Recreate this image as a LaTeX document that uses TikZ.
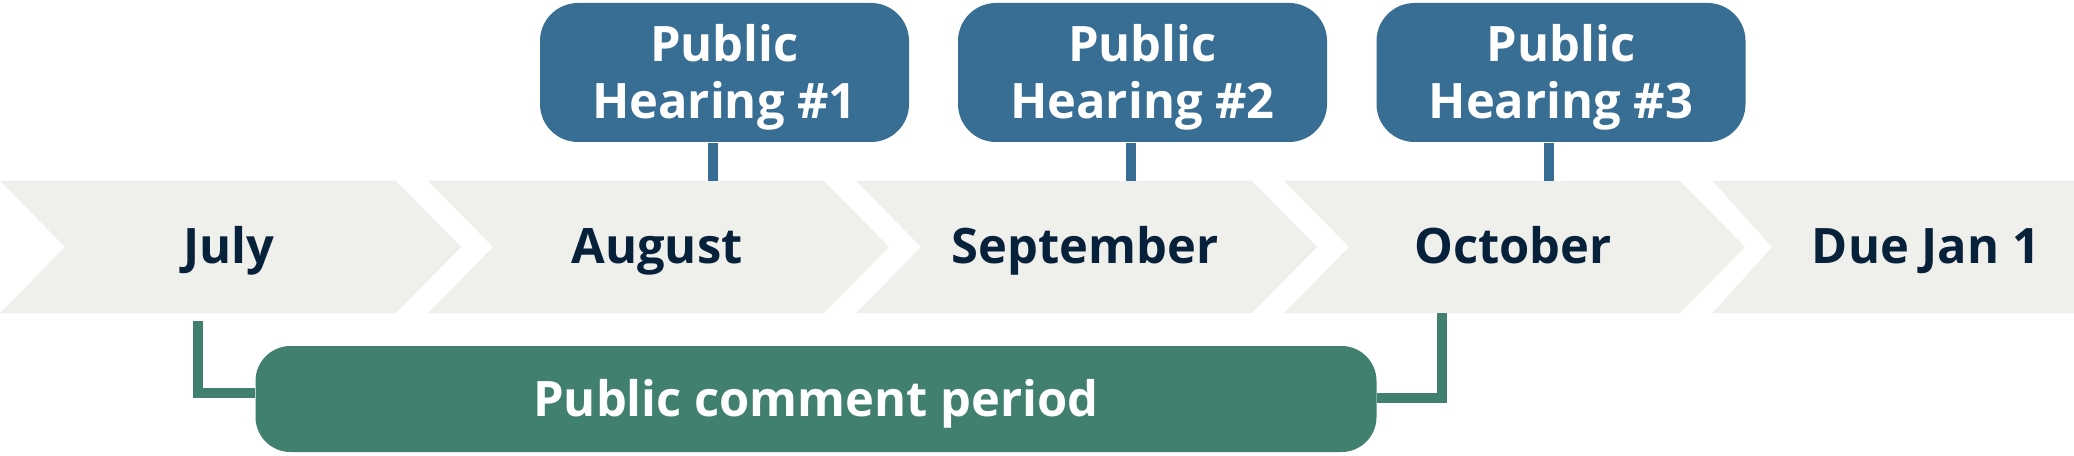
\documentclass[tikz,border=0pt]{standalone}
\usepackage{fontspec}
\setmainfont{Open Sans}
\usetikzlibrary{
	positioning,
	calc,
}
\definecolor{chevgray}{HTML}{EFEFEB}
\definecolor{hearblue}{HTML}{386D94}
\definecolor{periodgreen}{HTML}{41806F}
\definecolor{monthnavy}{HTML}{08213A}
\tikzset{chevron/.style={
		% no border, only the filling:
		draw=none,fill=chevgray,
}}
\tikzset{month/.style={
		% the text:
		text=monthnavy,inner sep=0pt,anchor=base,
		font=\fontsize{13.9}{16.5}\selectfont\bfseries,
}}
\tikzset{hearing/.style={
		% The shape:
		rectangle,rounded corners=3.8mm,
		% The size:
		minimum width=36.9mm,minimum height=13.9mm,inner sep=0pt,
		% The filling:
		fill=hearblue,text=white,align=center,
		font=\fontsize{13.9}{16.2}\selectfont\bfseries,
		% make sure the lines sit where they should
		text depth=0.3mm,
}}
\tikzset{period/.style={
		% The shape:
		rectangle,rounded corners=3.5mm,
		% The size:
		minimum width=112.1mm,minimum height=10.6mm,inner sep=0pt,
		% The filling:
		fill=periodgreen,text=white,
		font=\fontsize{13.9}{16.5}\selectfont\bfseries,
		% make sure text aligns properly
		text height=3.4mm,text depth=0pt,
}}
\tikzset{stem/.style={draw=hearblue,line width=1mm}}
\tikzset{link/.style={draw=periodgreen,line width=1mm}}

\begin{document}
\begin{tikzpicture}[x=0.1mm,y=-0.1mm]
	\useasboundingbox (0,0) rectangle (2074,456);
	% the chevrons with the months
	\foreach \i/\mname in {0/July,1/August,2/September,3/October} {
		\fill [chevron] (428*\i,181) -- ++(396,0) -- ++(65,66) -- ++(-65,66)
			-- ++(-396,0) -- ++(65,-66) -- cycle;
		\node [month] (m\i) at (428*\i+229,263.5) {\mname};
	}
	\fill [chevron] (1712.5,181) -- (2074,181) -- (2074,313) -- (1712.5,313) -- (1772,247) -- cycle;
	\node [month] (due) at (1926,263.5) {Due Jan 1};
	% the hearings
	\node [hearing] (h1) at (724.5,72.5) {Public\\Hearing \#1};
	\node [hearing] (h2) at (1142.5,72.5) {Public\\Hearing \#2};
	\node [hearing] (h3) at (1561,72.5) {Public\\Hearing \#3};
	\coordinate (s1) at (712.5,181);
	\coordinate (s2) at (1130.5,181);
	\coordinate (s3) at (1549,181);
	\foreach \n in {1,2,3} {
		\draw [stem] (h\n.south -| s\n) -- (s\n);
	}
	% the comment period
	\node [period] (period) at (816,399) {Public comment period};
	\coordinate (pl) at (198,321);
	\coordinate (pr) at (1442,313);
	\draw [link] (pl) |- ([yshift=0.6mm]period.west);
	\draw [link] (pr) |- ([yshift=0.1mm]period.east);
\end{tikzpicture}
\end{document}
